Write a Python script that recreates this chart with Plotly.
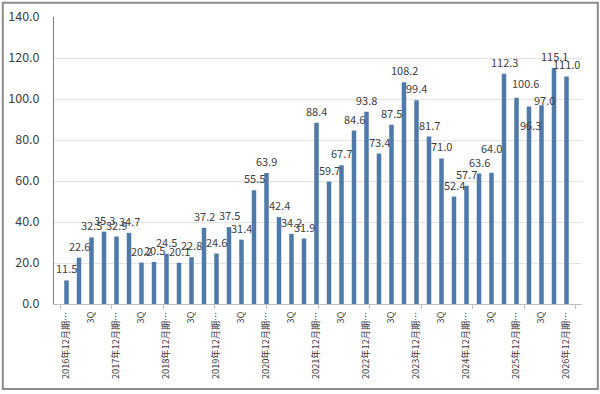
import plotly.graph_objects as go

values = [11.5, 22.6, 32.5, 35.3, 32.9, 34.7, 20.2, 20.5, 24.5, 20.1,
          22.8, 37.2, 24.6, 37.5, 31.4, 55.5, 63.9, 42.4, 34.2, 31.9,
          88.4, 59.7, 67.7, 84.6, 93.8, 73.4, 87.5, 108.2, 99.4, 81.7,
          71.0, 52.4, 57.7, 63.6, 64.0, 112.3, 100.6, 96.3, 97.0, 115.1,
          111.0]
years = [str(y) for y in range(2016, 2027)]
quarter_names = ["12月期", "1Q", "2Q", "3Q"]

categories = []
for i in range(len(values)):
    y = years[i // 4]
    q = i % 4
    categories.append(f"{y}年12月期" if q == 0 else f"{y}_{quarter_names[q]}")

tick_vals = [categories[i] for i in range(0, len(values), 2)]
tick_text = [(f"{years[i // 4]}年12月期…" if i % 4 == 0 else "3Q")
             for i in range(0, len(values), 2)]
year_ticks = [categories[i] for i in range(0, len(values), 4)]
y_ticks = [0, 20, 40, 60, 80, 100, 120, 140]

# label placement tweaks (pixels) for moved data labels, keyed by bar index
label_shift = {36: (9, 3), 37: (1, -30), 38: (3, -7), 34: (0, 13)}

fig = go.Figure()
fig.add_trace(go.Bar(
    x=categories, y=values,
    marker=dict(color="#4F79A8", line=dict(width=0)),
    width=0.36, hoverinfo="x+y",
))
# helper trace on an overlaid axis that only carries the yearly tick marks
fig.add_trace(go.Scatter(x=categories, y=values, xaxis="x2", mode="none",
                         hoverinfo="skip", showlegend=False))

annotations = []
for i, (c, v) in enumerate(zip(categories, values)):
    dx, dy = label_shift.get(i, (0, 0))
    annotations.append(dict(
        x=c, y=v, xref="x", yref="y", text=f"{v:.1f}", showarrow=False,
        yanchor="middle", xanchor="center", xshift=dx, yshift=12 + dy,
        font=dict(size=11, color="#404040", family="Noto Sans CJK JP"),
    ))

fig.update_layout(
    width=600, height=394,
    margin=dict(l=54, r=18, t=17, b=90),
    paper_bgcolor="white", plot_bgcolor="white",
    font=dict(family="Noto Sans CJK JP", color="#404040"),
    showlegend=False,
    annotations=annotations,
    xaxis=dict(
        type="category", automargin=False,
        categoryorder="array", categoryarray=categories,
        tickmode="array", tickvals=tick_vals, ticktext=tick_text,
        tickangle=-90, tickfont=dict(size=9.2, color="#404040"),
        showline=True, linecolor="#BFBFBF", linewidth=1,
        ticks="", ticklabelstandoff=3,
        showgrid=False,
    ),
    xaxis2=dict(
        type="category", automargin=False, overlaying="x", anchor="y",
        side="bottom", categoryorder="array", categoryarray=categories,
        range=[-0.5, len(categories) - 0.5],
        tickmode="array", tickvals=year_ticks, showticklabels=False,
        ticks="outside", ticklen=4, tickcolor="#BFBFBF", showgrid=False,
        showline=False,
    ),
    yaxis=dict(
        range=[0, 140], tickvals=y_ticks, automargin=False,
        ticktext=[f"{v:.1f}" for v in y_ticks],
        tickfont=dict(size=12.5, color="#404040"),
        showline=True, linecolor="#808080", linewidth=1,
        gridcolor="#E3E3E3", zeroline=False,
        ticks="", ticklabelstandoff=11,
    ),
    shapes=[dict(type="rect", xref="paper", yref="paper",
                 x0=-0.097, x1=1.030, y0=-0.296, y1=1.050,
                 line=dict(color="#8C8C8C", width=2))],
)

fig.write_html("out.html", config={"displayModeBar": False},
               post_script="document.body.style.margin='0px';document.body.style.padding='0px';")
